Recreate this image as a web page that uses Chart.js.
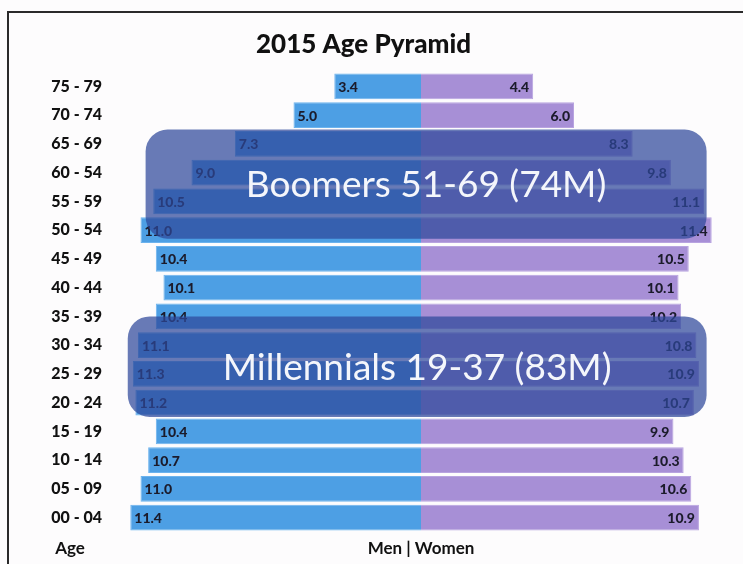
<!DOCTYPE html>
<html>
<head>
<meta charset="utf-8">
<script src="https://cdn.jsdelivr.net/npm/chart.js@4.4.1/dist/chart.umd.min.js"></script>
<style>
  body { margin: 0; background: #fff; }
  #wrap { width: 743px; height: 564px; position: relative; }
</style>
</head>
<body>
<div id="wrap"><canvas id="pyramid"></canvas></div>
<script>
const ageGroups = ['75 - 79', '70 - 74', '65 - 69', '60 - 54', '55 - 59', '50 - 54', '45 - 49', '40 - 44',
                   '35 - 39', '30 - 34', '25 - 29', '20 - 24', '15 - 19', '10 - 14', '05 - 09', '00 - 04'];
const men   = [3.4, 5.0, 7.3, 9.0, 10.5, 11.0, 10.4, 10.1, 10.4, 11.1, 11.3, 11.2, 10.4, 10.7, 11.0, 11.4];
const women = [4.4, 6.0, 8.3, 9.8, 11.1, 11.4, 10.5, 10.1, 10.2, 10.8, 10.9, 10.7, 9.9, 10.3, 10.6, 10.9];

// generation call-outs: first/last row index and value span
const generations = [
  { text: 'Boomers 51-69 (74M)',     from: 2, to: 5,  top: 0.5, bottom: 0.3, xMin: -10.8, xMax: 11.2 },
  { text: 'Millennials 19-37 (83M)', from: 8, to: 11, top: 0.0, bottom: 0.5, xMin: -11.5, xMax: 11.2 }
];

const FONT = 'Lato, "Open Sans", sans-serif';

const pyramidPlugin = {
  id: 'pyramid',
  beforeDraw(chart) {
    const c = chart.ctx;
    c.save();
    c.fillStyle = '#fdfcfd';
    c.fillRect(0, 0, chart.width, chart.height);
    c.strokeStyle = '#2a2a2a';
    c.lineWidth = 2;
    c.beginPath();
    c.moveTo(8, 564);
    c.lineTo(8, 12);
    c.lineTo(743, 12);
    c.stroke();
    c.restore();
  },
  afterDatasetsDraw(chart) {
    const c = chart.ctx;
    const x = chart.scales.x, y = chart.scales.y;
    c.save();
    // value labels
    c.font = '900 14px ' + FONT;
    c.fillStyle = '#1b1b2b';
    c.textBaseline = 'middle';
    ageGroups.forEach((g, i) => {
      const py = y.getPixelForValue(i);
      c.textAlign = 'left';
      c.fillText(men[i].toFixed(1), x.getPixelForValue(-men[i]) + 4, py + 1);
      c.textAlign = 'right';
      c.fillText(women[i].toFixed(1), x.getPixelForValue(women[i]) - 4, py + 1);
    });
    // overlays
    const step = y.getPixelForValue(1) - y.getPixelForValue(0);
    generations.forEach(g => {
      const x0 = x.getPixelForValue(g.xMin), x1 = x.getPixelForValue(g.xMax);
      const y0 = y.getPixelForValue(g.from) - step * g.top;
      const y1 = y.getPixelForValue(g.to) + step * g.bottom;
      c.fillStyle = 'rgba(46, 72, 154, 0.72)';
      c.beginPath();
      c.roundRect(x0, y0, x1 - x0, y1 - y0, 22);
      c.fill();
      c.font = '37px ' + FONT;
      c.fillStyle = '#f4f6fb';
      c.textAlign = 'center';
      c.textBaseline = 'middle';
      c.fillText(g.text, (x0 + x1) / 2, (y0 + y1) / 2 + 1);
    });
    // bottom captions
    c.font = 'bold 17px ' + FONT;
    c.fillStyle = '#111';
    c.textAlign = 'center';
    c.fillText('Age', 70, 549);
    c.fillText('Men | Women', x.getPixelForValue(0), 549);
    c.restore();
  }
};

new Chart(document.getElementById('pyramid'), {
  type: 'bar',
  data: {
    labels: ageGroups,
    datasets: [
      { label: 'Men', data: men.map(v => -v), backgroundColor: '#4d9fe4',
        borderColor: '#6cb3ee', borderWidth: 1, barPercentage: 0.9, categoryPercentage: 1 },
      { label: 'Women', data: women, backgroundColor: '#a78fd6',
        borderColor: '#b8a3e0', borderWidth: 1, barPercentage: 0.9, categoryPercentage: 1 }
    ]
  },
  options: {
    indexAxis: 'y',
    responsive: true,
    maintainAspectRatio: false,
    animation: false,
    layout: { padding: { left: 0, right: 16, bottom: 32, top: 0 } },
    plugins: {
      legend: { display: false },
      tooltip: { enabled: false },
      title: {
        display: true,
        text: '2015 Age Pyramid',
        color: '#111',
        font: { family: FONT, size: 26, weight: 900 },
        padding: { top: 29, bottom: 11.8 }
      }
    },
    scales: {
      x: { stacked: true, min: -12, max: 12, display: false },
      y: {
        stacked: true,
        grid: { display: false },
        border: { display: false },
        ticks: { color: '#111', font: { family: FONT, size: 16, weight: 900 }, padding: 5 },
        afterFit(scale) { scale.width = 115; }
      }
    }
  },
  plugins: [pyramidPlugin]
});
</script>
</body>
</html>
